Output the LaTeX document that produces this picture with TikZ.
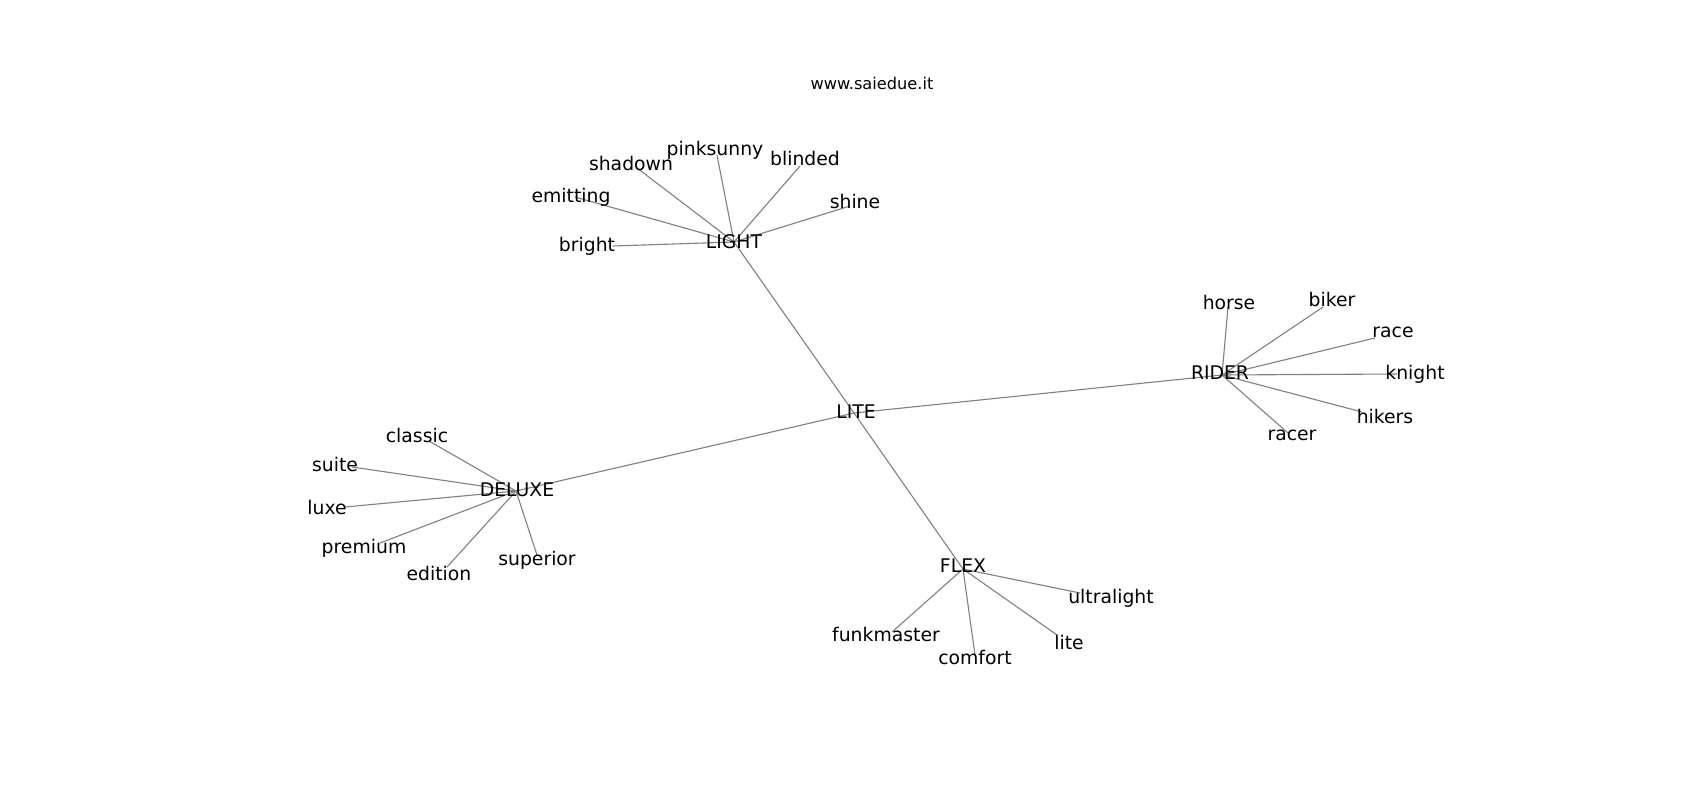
\documentclass[tikz,border=0pt]{standalone}
\usepackage{fontspec}
\setmainfont{DejaVu Sans}
\usepackage{tikz}
\usetikzlibrary{positioning}

\tikzset{
  edge/.style={draw=gray, line width=1.1pt},
  lbl/.style={font=\fontsize{18.8}{22}\selectfont, inner sep=0pt},
}

\begin{document}
\begin{tikzpicture}[x=1pt, y=-1pt]
\useasboundingbox[fill=white] (0,0) rectangle (1700,800);

% title
\node[font=\fontsize{16.2}{19}\selectfont] (title) at (872,83) {www.saiedue.it};

% hubs
\coordinate (lite) at (854,413);
\coordinate (light) at (734,242);
\coordinate (rider) at (1222,375);
\coordinate (deluxe) at (516,491);
\coordinate (flex) at (963,569);

\draw[edge] (lite) -- (light);
\draw[edge] (lite) -- (rider);
\draw[edge] (lite) -- (deluxe);
\draw[edge] (lite) -- (flex);

% LIGHT branch
\foreach \n/\ex/\ey/\lx/\ly in {bright/613/246/587/246, emitting/575/197/571/197,
    shadown/637/168/631/163, pinksunny/717/155/715/150,
    blinded/800/166/805/158, shine/850/206/855/201} {
  \coordinate (\n) at (\ex,\ey);
  \draw[edge] (light) -- (\n);
  \node[lbl] (\n-l) at (\lx,\ly) {\n};
}

% RIDER branch
\foreach \n/\ex/\ey/\lx/\ly in {horse/1228/307/1229/302, biker/1323/307/1332/299,
    race/1375/338/1393/332, knight/1397/374/1415/374,
    hikers/1362/412/1385/416, racer/1288/433/1292/435} {
  \coordinate (\n) at (\ex,\ey);
  \draw[edge] (rider) -- (\n);
  \node[lbl] (\n-l) at (\lx,\ly) {\n};
}

% DELUXE branch
\foreach \n/\ex/\ey/\lx/\ly in {classic/429/441/417/435, suite/352/467/335/464,
    luxe/345/507/327/507, premium/380/543/364/548,
    edition/447/567/439/573, superior/537/555/537/560} {
  \coordinate (\n) at (\ex,\ey);
  \draw[edge] (deluxe) -- (\n);
  \node[lbl] (\n-l) at (\lx,\ly) {\n};
}

% FLEX branch
\foreach \n/\ex/\ey/\lx/\ly/\t in {ultralight/1080/593/1111/598/ultralight,
    funkmaster/892/632/886/634/funkmaster, comfort/975/655/975/657/comfort,
    lite2/1057/635/1069/642/lite} {
  \coordinate (\n) at (\ex,\ey);
  \draw[edge] (flex) -- (\n);
  \node[lbl] (\n-l) at (\lx,\ly) {\t};
}

% hub labels
\node[lbl] (lite-l) at (856,412) {LITE};
\node[lbl] (light-l) at (734,242) {LIGHT};
\node[lbl] (rider-l) at (1220,373) {RIDER};
\node[lbl] (deluxe-l) at (517,490) {DELUXE};
\node[lbl] (flex-l) at (963,566) {FLEX};
\end{tikzpicture}
\end{document}
